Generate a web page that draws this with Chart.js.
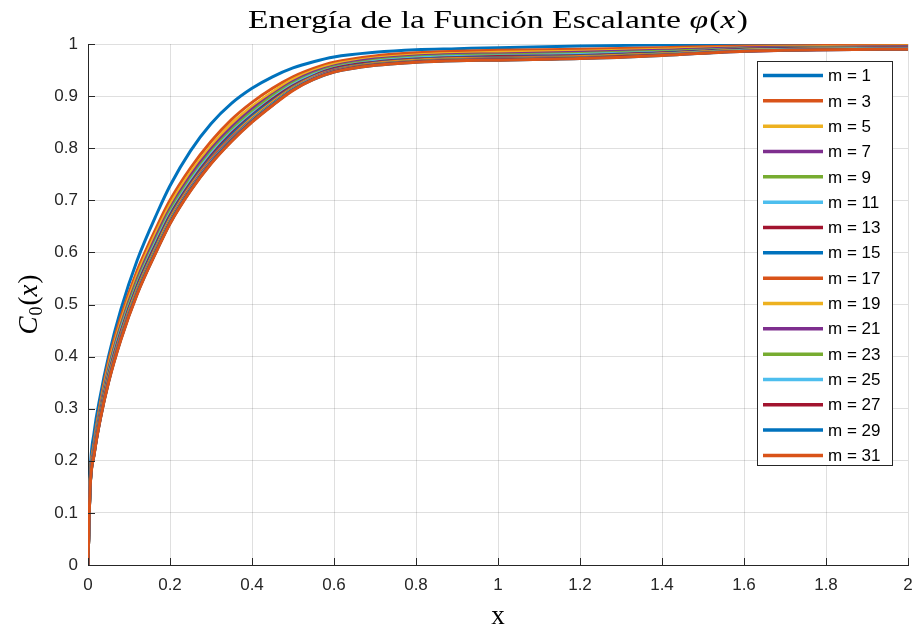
<!DOCTYPE html>
<html>
<head>
<meta charset="utf-8">
<script src="https://cdn.jsdelivr.net/npm/chart.js@4.4.1/dist/chart.umd.min.js"></script>
<style>
  html, body { margin: 0; padding: 0; background: #fff; }
  #wrap { width: 915px; height: 632px; position: relative; }
</style>
</head>
<body>
<div id="wrap"><canvas id="myChart" width="915" height="632"></canvas></div>
<script>
// x positions of the samples
const xs = [0, 0.005, 0.015, 0.03, 0.05, 0.08, 0.12, 0.17, 0.2, 0.25, 0.3, 0.35, 0.4, 0.45, 0.5, 0.55, 0.6, 0.7, 0.8, 0.9, 1.0, 1.2, 1.4, 1.6, 1.8, 2.0];

// C0(x) for each m
const c1  = [0, 0.170, 0.255, 0.325, 0.400, 0.490, 0.585, 0.678, 0.728, 0.795, 0.847, 0.886, 0.915, 0.937, 0.954, 0.966, 0.975, 0.984, 0.989, 0.991, 0.993, 0.996, 0.998, 1.000, 1.000, 1.000];
const c3  = [0, 0.158, 0.235, 0.310, 0.390, 0.475, 0.565, 0.653, 0.700, 0.762, 0.813, 0.855, 0.888, 0.915, 0.937, 0.953, 0.965, 0.977, 0.983, 0.986, 0.988, 0.990, 0.993, 0.996, 0.997, 0.998];
const c5  = [0, 0.155, 0.230, 0.304, 0.382, 0.466, 0.556, 0.644, 0.691, 0.753, 0.804, 0.847, 0.880, 0.908, 0.932, 0.949, 0.961, 0.973, 0.979, 0.982, 0.984, 0.986, 0.990, 0.994, 0.995, 0.996];
const c7  = [0, 0.153, 0.227, 0.300, 0.376, 0.460, 0.549, 0.637, 0.684, 0.747, 0.798, 0.840, 0.875, 0.903, 0.928, 0.946, 0.958, 0.971, 0.977, 0.980, 0.981, 0.984, 0.988, 0.993, 0.994, 0.995];
const c9  = [0, 0.152, 0.224, 0.296, 0.371, 0.455, 0.544, 0.631, 0.679, 0.741, 0.793, 0.835, 0.870, 0.900, 0.925, 0.943, 0.956, 0.969, 0.975, 0.978, 0.979, 0.982, 0.986, 0.991, 0.993, 0.994];
const c11 = [0, 0.151, 0.222, 0.293, 0.367, 0.451, 0.539, 0.627, 0.674, 0.737, 0.789, 0.831, 0.866, 0.896, 0.922, 0.941, 0.954, 0.967, 0.973, 0.976, 0.977, 0.980, 0.984, 0.990, 0.992, 0.993];
const c13 = [0, 0.150, 0.220, 0.291, 0.364, 0.447, 0.536, 0.623, 0.671, 0.733, 0.785, 0.828, 0.863, 0.894, 0.920, 0.939, 0.953, 0.965, 0.971, 0.974, 0.976, 0.978, 0.983, 0.990, 0.992, 0.993];
const c15 = [0, 0.149, 0.218, 0.288, 0.361, 0.444, 0.533, 0.620, 0.668, 0.730, 0.782, 0.825, 0.861, 0.891, 0.918, 0.938, 0.951, 0.964, 0.970, 0.973, 0.974, 0.977, 0.982, 0.989, 0.991, 0.992];
const c17 = [0, 0.148, 0.217, 0.287, 0.359, 0.442, 0.530, 0.617, 0.665, 0.728, 0.780, 0.822, 0.858, 0.889, 0.917, 0.937, 0.950, 0.963, 0.969, 0.972, 0.973, 0.976, 0.981, 0.988, 0.991, 0.992];
const c19 = [0, 0.147, 0.216, 0.285, 0.357, 0.439, 0.528, 0.615, 0.663, 0.726, 0.777, 0.820, 0.857, 0.888, 0.915, 0.936, 0.949, 0.962, 0.968, 0.971, 0.972, 0.975, 0.981, 0.988, 0.990, 0.991];
const c21 = [0, 0.147, 0.215, 0.284, 0.355, 0.438, 0.526, 0.613, 0.661, 0.724, 0.776, 0.819, 0.855, 0.886, 0.914, 0.935, 0.949, 0.961, 0.967, 0.970, 0.972, 0.974, 0.980, 0.987, 0.990, 0.991];
const c23 = [0, 0.146, 0.214, 0.283, 0.354, 0.436, 0.525, 0.612, 0.660, 0.722, 0.774, 0.817, 0.854, 0.885, 0.914, 0.934, 0.948, 0.961, 0.967, 0.970, 0.971, 0.974, 0.980, 0.987, 0.990, 0.991];
const c25 = [0, 0.146, 0.214, 0.282, 0.353, 0.435, 0.523, 0.610, 0.658, 0.721, 0.773, 0.816, 0.853, 0.884, 0.913, 0.934, 0.947, 0.960, 0.966, 0.969, 0.970, 0.973, 0.979, 0.987, 0.990, 0.991];
const c27 = [0, 0.146, 0.213, 0.281, 0.352, 0.434, 0.522, 0.609, 0.657, 0.720, 0.772, 0.815, 0.852, 0.883, 0.912, 0.933, 0.947, 0.960, 0.966, 0.969, 0.970, 0.973, 0.979, 0.986, 0.989, 0.990];
const c29 = [0, 0.145, 0.213, 0.281, 0.351, 0.433, 0.521, 0.608, 0.656, 0.719, 0.771, 0.814, 0.851, 0.883, 0.912, 0.932, 0.946, 0.959, 0.965, 0.968, 0.969, 0.972, 0.978, 0.986, 0.989, 0.990];
const c31 = [0, 0.145, 0.212, 0.280, 0.350, 0.432, 0.520, 0.607, 0.655, 0.718, 0.770, 0.813, 0.850, 0.882, 0.911, 0.932, 0.946, 0.959, 0.965, 0.968, 0.969, 0.972, 0.978, 0.986, 0.989, 0.990];

const mValues = [1, 3, 5, 7, 9, 11, 13, 15, 17, 19, 21, 23, 25, 27, 29, 31];
const series = [c1, c3, c5, c7, c9, c11, c13, c15, c17, c19, c21, c23, c25, c27, c29, c31];
const xTicks = [0, 0.2, 0.4, 0.6, 0.8, 1, 1.2, 1.4, 1.6, 1.8, 2];
const yTicks = [0, 0.1, 0.2, 0.3, 0.4, 0.5, 0.6, 0.7, 0.8, 0.9, 1];

// matlab default line colours
const colors = ["#0072BD", "#D95319", "#EDB120", "#7E2F8E", "#77AC30", "#4DBEEE", "#A2142F"];

const axisColor = "#262626";
const gridColor = "rgba(38,38,38,0.15)";
const tickFont = { family: "'Liberation Sans', Arial, sans-serif", size: 17 };
const serif = "'Liberation Serif', 'DejaVu Serif', serif";

let datasets = series.map((vals, i) => ({
  label: "m = " + mValues[i],
  data: vals.map((v, j) => ({ x: xs[j], y: v })),
  borderColor: colors[i % colors.length],
  backgroundColor: colors[i % colors.length],
  borderWidth: 3,
  pointRadius: 0,
  cubicInterpolationMode: "monotone",
  fill: false,
  order: series.length - i, // later m on top, like matlab
}));

// draws a run of [text, italic, size, dy, extra] pieces starting at x
function drawRun(ctx, pieces, x, y, measureOnly) {
  let w = 0;
  pieces.forEach(p => {
    ctx.font = (p[1] ? "italic " : "") + p[2] + "px " + serif;
    if (!measureOnly) ctx.fillText(p[0], x + w, y + (p[3] || 0));
    w += ctx.measureText(p[0]).width + (p[4] || 0);
  });
  return w;
}

// title, axis labels, inward ticks and the legend box
const decorations = {
  id: "decorations",
  afterDraw(chart) {
    const ctx = chart.ctx;
    const area = chart.chartArea;
    const sx = chart.scales.x, sy = chart.scales.y;
    ctx.save();

    // inward tick marks
    ctx.strokeStyle = axisColor;
    ctx.lineWidth = 1;
    ctx.beginPath();
    xTicks.forEach(t => {
      const px = Math.round(sx.getPixelForValue(t)) + 0.5;
      ctx.moveTo(px, area.bottom);
      ctx.lineTo(px, area.bottom - 7);
    });
    yTicks.forEach(t => {
      const py = Math.round(sy.getPixelForValue(t)) + 0.5;
      ctx.moveTo(area.left, py);
      ctx.lineTo(area.left + 7, py);
    });
    ctx.stroke();

    const cx = (area.left + area.right) / 2;
    ctx.fillStyle = "#000";
    ctx.textBaseline = "alphabetic";
    ctx.textAlign = "left";

    // title, widened a bit to look like the latex font
    const title = [["Energía de la Función Escalante ", false, 26], ["φ", true, 26, 0, 1], ["(", false, 26], ["x", true, 26, 0, 1], [")", false, 26]];
    const tw = drawRun(ctx, title, 0, 0, true);
    const stretch = 500 / tw;
    ctx.save();
    ctx.translate(cx - 250, 28);
    ctx.scale(stretch, 1);
    drawRun(ctx, title, 0, 0, false);
    ctx.restore();

    // x label
    ctx.font = "27px " + serif;
    ctx.textAlign = "center";
    ctx.fillText("x", cx, 624);
    ctx.textAlign = "left";

    // y label C_0(x), rotated
    const ylab = [["C", true, 27, 0, 1], ["0", false, 18, 5, 1], ["(", false, 27], ["x", true, 27, 0, 1], [")", false, 27]];
    ctx.save();
    ctx.translate(37, (area.top + area.bottom) / 2);
    ctx.rotate(-Math.PI / 2);
    const yw = drawRun(ctx, ylab, 0, 0, true);
    drawRun(ctx, ylab, -yw / 2, 0, false);
    ctx.restore();

    // legend
    const lgX = 757, lgY = 61, lgW = 135, lgH = 404;
    ctx.fillStyle = "#fff";
    ctx.fillRect(lgX, lgY, lgW, lgH);
    ctx.strokeStyle = axisColor;
    ctx.lineWidth = 1;
    ctx.strokeRect(lgX + 0.5, lgY + 0.5, lgW, lgH);
    const rowH = 25.33;
    ctx.font = "17px 'Liberation Sans', Arial, sans-serif";
    ctx.textBaseline = "middle";
    chart.data.datasets.forEach((ds, i) => {
      const ry = lgY + 14.5 + i * rowH;
      ctx.strokeStyle = ds.borderColor;
      ctx.lineWidth = 3.5;
      ctx.beginPath();
      ctx.moveTo(763, ry);
      ctx.lineTo(823, ry);
      ctx.stroke();
      ctx.fillStyle = "#000";
      ctx.fillText(ds.label, 828, ry + 1);
    });

    ctx.restore();
  },
};

let ctx = document.getElementById("myChart").getContext("2d");
let myChart = new Chart(ctx, {
  type: "line",
  data: { datasets: datasets },
  options: {
    responsive: false,
    animation: false,
    layout: { padding: { top: 44, right: 7, left: 0, bottom: 0 } },
    plugins: { legend: { display: false }, tooltip: { enabled: false }, title: { display: false } },
    scales: {
      x: {
        type: "linear",
        min: 0,
        max: 2,
        afterBuildTicks: (scale) => { scale.ticks = xTicks.map(v => ({ value: v })); },
        afterFit: (scale) => { scale.height = 67; scale.paddingLeft = 0; scale.paddingRight = 0; },
        ticks: { font: tickFont, color: axisColor, padding: 10, maxRotation: 0, callback: (v) => String(v) },
        grid: { color: gridColor, drawTicks: false },
        border: { display: true, color: axisColor, width: 1 },
      },
      y: {
        type: "linear",
        min: 0,
        max: 1,
        afterBuildTicks: (scale) => { scale.ticks = yTicks.map(v => ({ value: v })); },
        afterFit: (scale) => { scale.width = 88; },
        ticks: { font: tickFont, color: axisColor, padding: 10, callback: (v) => String(v) },
        grid: { color: gridColor, drawTicks: false },
        border: { display: true, color: axisColor, width: 1 },
      },
    },
  },
  plugins: [decorations],
});
</script>
</body>
</html>
